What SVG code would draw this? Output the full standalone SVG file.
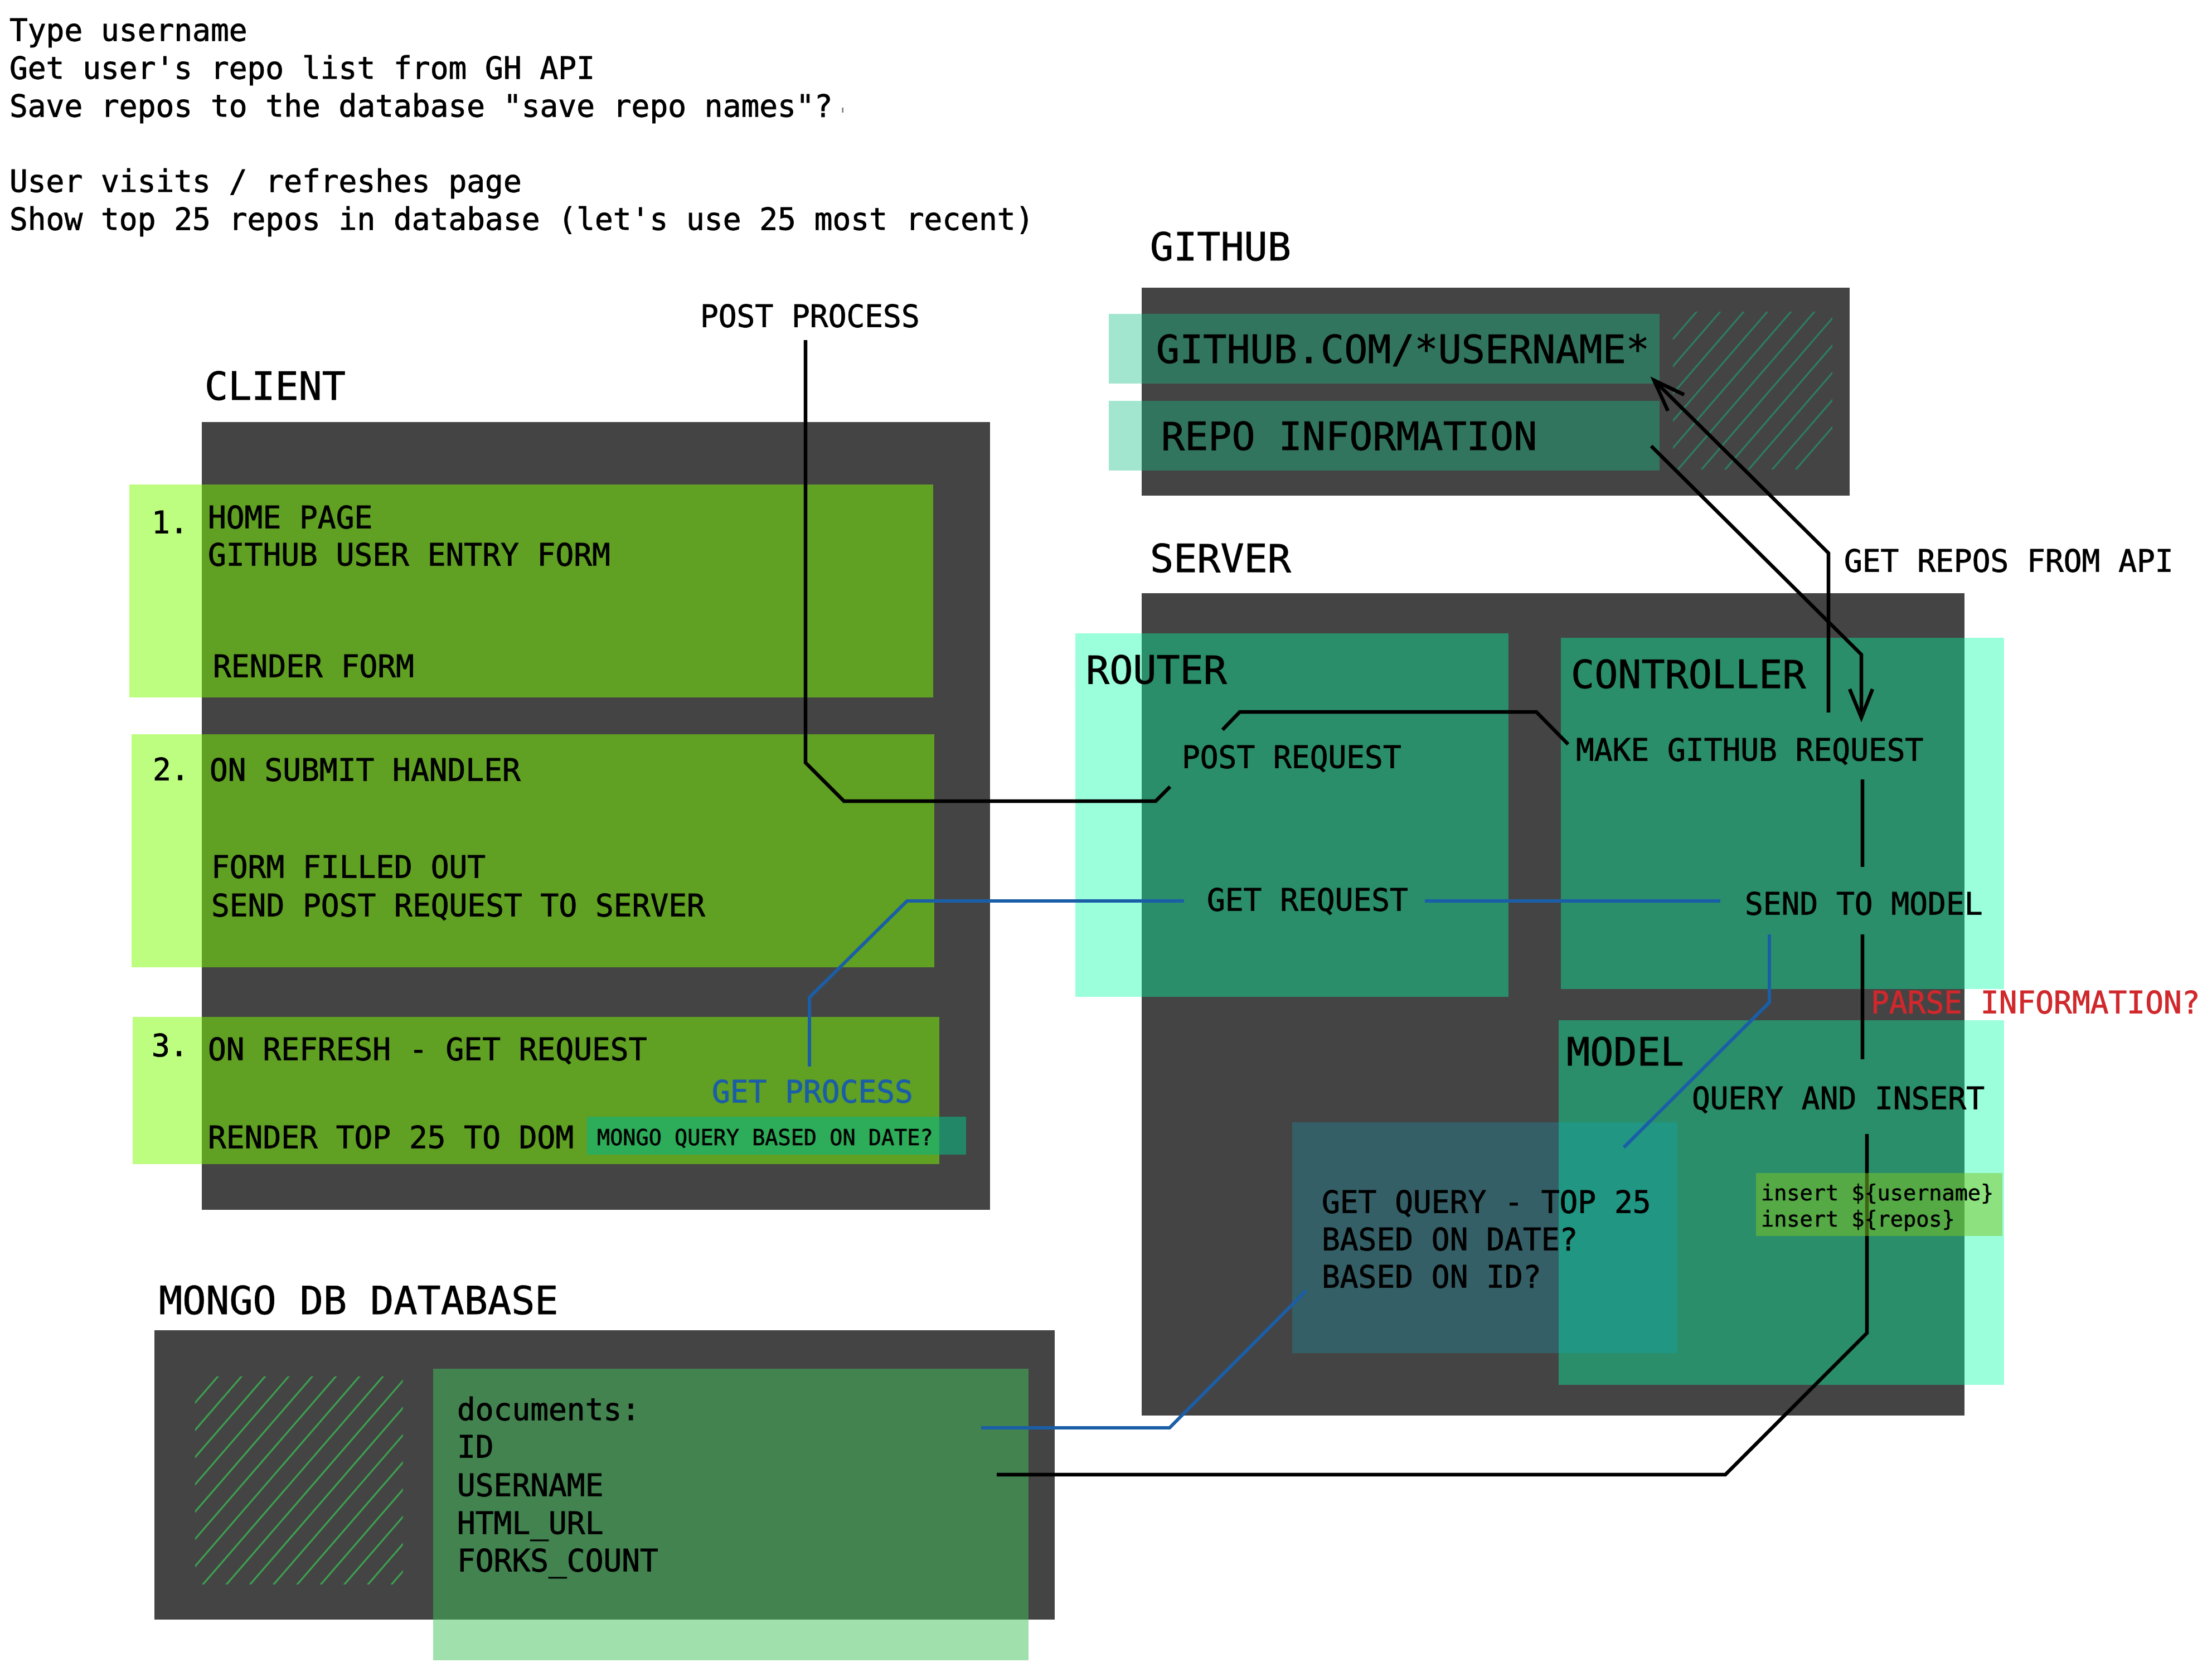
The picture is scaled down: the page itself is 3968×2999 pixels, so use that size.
<svg xmlns="http://www.w3.org/2000/svg" width="3968" height="2999" viewBox="0 0 3968 2999">
<style>
text{font-family:"DejaVu Sans Mono","Liberation Mono",monospace;fill:#000;stroke:#000;stroke-width:0.9}
.h{font-size:70px}
.b{font-size:54.5px}
.s{font-size:38.5px;stroke-width:0.6}
.blue{fill:#1b5ea8;stroke:#1b5ea8}
.red{fill:#d0282c;stroke:#d0282c}
.dark{fill:#444444}
.cg{fill:rgba(124,252,0,0.5)}
.sv{fill:rgba(5,255,167,0.4)}
.gh{fill:rgba(25,192,135,0.4)}
.k{fill:none;stroke:#000;stroke-width:6.5;stroke-linejoin:miter}
.bl{fill:none;stroke:#1b5ea8;stroke-width:6}
.hg{stroke:#2e7d60;stroke-width:3.2}
.hm{stroke:#3da04f;stroke-width:3.2}
</style>
<defs>
<clipPath id="cgh"><rect x="3001" y="559" width="286" height="283"/></clipPath>
<clipPath id="cmg"><rect x="350" y="2468.7" width="372.7" height="373.3"/></clipPath>
</defs>
<rect width="3968" height="2999" fill="#fff"/>

<g id="notes">
<text class="b" x="17" y="73">Type username</text>
<text class="b" x="17" y="141">Get user's repo list from GH API</text>
<text class="b" x="17" y="209">Save repos to the database "save repo names"?</text>
<rect x="1510.5" y="193" width="2.5" height="9" fill="#777"/>
<text class="b" x="17" y="344">User visits / refreshes page</text>
<text class="b" x="17" y="412">Show top 25 repos in database (let's use 25 most recent)</text>
</g>

<g id="client">
<text class="h" x="367" y="717">CLIENT</text>
<rect class="dark" x="362" y="757" width="1414" height="1413"/>
</g>
<g id="client-step1">
<rect class="cg" x="232" y="869" width="1442" height="382"/>
<text class="b" x="272" y="956">1.</text>
<text class="b" x="373" y="947">HOME PAGE</text>
<text class="b" x="373" y="1014">GITHUB USER ENTRY FORM</text>
<text class="b" x="382" y="1214">RENDER FORM</text>
</g>
<g id="client-step2">
<rect class="cg" x="236" y="1317" width="1440" height="418"/>
<text class="b" x="274" y="1399">2.</text>
<text class="b" x="376" y="1400">ON SUBMIT HANDLER</text>
<text class="b" x="379" y="1574">FORM FILLED OUT</text>
<text class="b" x="379" y="1643">SEND POST REQUEST TO SERVER</text>
</g>
<g id="client-step3">
<rect class="cg" x="238" y="1824" width="1447" height="264"/>
<text class="b" x="272" y="1894">3.</text>
<text class="b" x="373" y="1901">ON REFRESH - GET REQUEST</text>
<text class="b" x="373" y="2059">RENDER TOP 25 TO DOM</text>
</g>
<g id="mongo-query-note">
<rect x="1053" y="2003" width="680" height="68" fill="rgba(12,180,126,0.6)"/>
<text class="s" x="1071" y="2054">MONGO QUERY BASED ON DATE?</text>
</g>

<g id="github">
<text class="h" x="2063" y="467">GITHUB</text>
<rect class="dark" x="2048" y="516" width="1270" height="373"/>
<g clip-path="url(#cgh)" class="hg">
<line x1="3094.6" y1="500" x2="2748.3" y2="900"/>
<line x1="3136.9" y1="500" x2="2790.6" y2="900"/>
<line x1="3179.2" y1="500" x2="2832.9" y2="900"/>
<line x1="3221.5" y1="500" x2="2875.2" y2="900"/>
<line x1="3263.8" y1="500" x2="2917.5" y2="900"/>
<line x1="3306.1" y1="500" x2="2959.8" y2="900"/>
<line x1="3348.4" y1="500" x2="3002.1" y2="900"/>
<line x1="3390.7" y1="500" x2="3044.4" y2="900"/>
<line x1="3433.0" y1="500" x2="3086.7" y2="900"/>
<line x1="3475.3" y1="500" x2="3129.0" y2="900"/>
<line x1="3517.6" y1="500" x2="3171.3" y2="900"/>
</g>
</g>
<g id="github-url">
<rect class="gh" x="1989" y="563" width="988" height="125"/>
<text class="h" x="2074" y="651">GITHUB.COM/*USERNAME*</text>
</g>
<g id="github-repo-info">
<rect class="gh" x="1989" y="719" width="988" height="125"/>
<text class="h" x="2083" y="807">REPO INFORMATION</text>
</g>

<g id="server">
<text class="h" x="2063" y="1026">SERVER</text>
<rect class="dark" x="2048" y="1064" width="1476" height="1475"/>
</g>
<g id="router">
<rect class="sv" x="1929" y="1136" width="777" height="652"/>
<text class="h" x="1948" y="1226">ROUTER</text>
<text class="b" x="2120" y="1377">POST REQUEST</text>
<text class="b" x="2165" y="1633">GET REQUEST</text>
</g>
<g id="controller">
<rect class="sv" x="2800" y="1144" width="795" height="630"/>
<text class="h" x="2818" y="1234">CONTROLLER</text>
<text class="b" x="2827" y="1364">MAKE GITHUB REQUEST</text>
<text class="b" x="3130" y="1640">SEND TO MODEL</text>
</g>
<g id="model">
<rect class="sv" x="2796" y="1830" width="799" height="654"/>
<text class="h" x="2810" y="1911">MODEL</text>
<text class="b" x="3035" y="1989">QUERY AND INSERT</text>
</g>
<g id="get-query">
<rect x="2318" y="2013" width="691" height="414" fill="rgba(2,176,204,0.25)"/>
<text class="b" x="2371" y="2175">GET QUERY - TOP 25</text>
<text class="b" x="2371" y="2242">BASED ON DATE?</text>
<text class="b" x="2371" y="2309">BASED ON ID?</text>
</g>

<g id="mongo">
<text class="h" x="285" y="2357">MONGO DB DATABASE</text>
<rect class="dark" x="277" y="2386" width="1615" height="519"/>
<g clip-path="url(#cmg)" class="hm">
<line x1="450.5" y1="2400" x2="17.6" y2="2900"/>
<line x1="492.8" y1="2400" x2="59.9" y2="2900"/>
<line x1="535.1" y1="2400" x2="102.2" y2="2900"/>
<line x1="577.4" y1="2400" x2="144.5" y2="2900"/>
<line x1="619.7" y1="2400" x2="186.8" y2="2900"/>
<line x1="662.0" y1="2400" x2="229.1" y2="2900"/>
<line x1="704.3" y1="2400" x2="271.4" y2="2900"/>
<line x1="746.6" y1="2400" x2="313.7" y2="2900"/>
<line x1="788.9" y1="2400" x2="356.0" y2="2900"/>
<line x1="831.2" y1="2400" x2="398.3" y2="2900"/>
<line x1="873.5" y1="2400" x2="440.6" y2="2900"/>
<line x1="915.8" y1="2400" x2="482.9" y2="2900"/>
<line x1="958.1" y1="2400" x2="525.2" y2="2900"/>
<line x1="1000.4" y1="2400" x2="567.5" y2="2900"/>
<line x1="1042.7" y1="2400" x2="609.8" y2="2900"/>
<line x1="1085.0" y1="2400" x2="652.1" y2="2900"/>
</g>
</g>
<g id="mongo-documents">
<rect x="777" y="2455" width="1068" height="523" fill="rgba(64,194,90,0.5)"/>
<text class="b" x="820" y="2547">documents:</text>
<text class="b" x="820" y="2614">ID</text>
<text class="b" x="820" y="2683">USERNAME</text>
<text class="b" x="820" y="2751">HTML_URL</text>
<text class="b" x="820" y="2818">FORKS_COUNT</text>
</g>

<g id="connectors">
<path class="k" d="M1445,610 V1368 L1514,1437 H2073 L2099,1411"/>
<path class="k" d="M2193,1309 L2224,1277 H2756 L2813,1335"/>
<path class="k" d="M3280,1278 V992 L2970,685"/>
<path class="k" d="M2992,737 L2967,682 L3021,708"/>
<path class="k" d="M2962,800 L3339,1174 V1283"/>
<path class="k" d="M3318,1236 L3339,1287 L3359,1236"/>
<path class="k" d="M3341,1398 V1555"/>
<path class="k" d="M3341,1676 V1900"/>
<path class="k" d="M3349,2034 V2391 L3095,2645 H1788"/>
<path class="bl" d="M1452,1913 V1789 L1627,1616 H2124"/>
<path class="bl" d="M2556,1616 H3086"/>
<path class="bl" d="M3174,1676 V1798 L2913,2058"/>
<path class="bl" d="M2343,2315 L2098,2561 H1760"/>
<text class="b" x="1256" y="586">POST PROCESS</text>
<text class="b" x="3308" y="1025">GET REPOS FROM API</text>
<text class="b blue" x="1277" y="1977">GET PROCESS</text>
<text class="b red" x="3356" y="1817">PARSE INFORMATION?</text>
</g>

<g id="model-insert">
<rect x="3150" y="2104" width="442" height="113" fill="rgba(128,197,34,0.5)"/>
<text class="s" x="3159" y="2153">insert ${username}</text>
<text class="s" x="3159" y="2200">insert ${repos}</text>
</g>
</svg>
